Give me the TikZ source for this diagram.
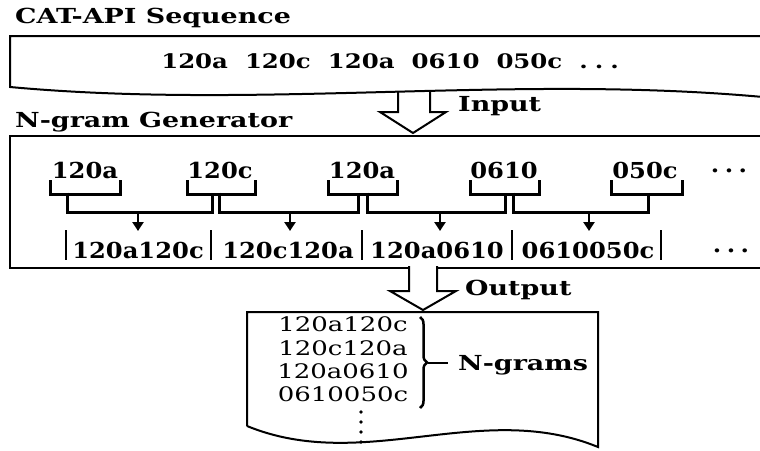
\documentclass[tikz,border=0pt]{standalone}
\usepackage{fontspec}
\setmainfont{DejaVu Serif}
\newfontfamily\fA[FakeStretch=1.3]{DejaVu Serif}
\newfontfamily\fB[FakeStretch=1.22]{DejaVu Serif}
\newfontfamily\fC[FakeStretch=1.1]{DejaVu Serif}
\usetikzlibrary{arrows.meta,decorations.pathreplacing}
\tikzset{
  boxline/.style={line width=2pt},
  brk/.style={line width=3pt, line cap=butt, line join=miter},
  downarr/.style={line width=2.4pt, -{Triangle[length=9pt,width=11pt]}},
  title/.style={anchor=base west, inner sep=0pt, font=\fontsize{20.7}{24}\fA\bfseries},
  tok/.style={anchor=base, inner sep=0pt, font=\fontsize{22}{26}\fC\bfseries},
  gram/.style={anchor=base, inner sep=0pt, font=\fontsize{22}{26}\fC\bfseries},
  lbl/.style={anchor=base west, inner sep=0pt, font=\fontsize{20.7}{24}\fA\bfseries},
  lst/.style={inner sep=0pt, font=\fontsize{20}{22}\fA},
  blockarrow/.style={line width=2pt, fill=white, line join=miter},
}
\begin{document}
\begin{tikzpicture}[x=1pt,y=-1pt]
\useasboundingbox (0,0) rectangle (760,450);

% ---- CAT-API sequence ----
\node[title] (t1) at (15,23) {CAT-API Sequence};
\draw[blockarrow] (398,86) -- (398,112) -- (380,112) -- (413,133) -- (446,112) -- (430,112) -- (430,86);
\draw[boxline, fill=white] (763,36) -- (10,36) -- (10,87) .. controls (260,110) and (510,74) .. (763,97);
\node[anchor=base, inner sep=0pt, font=\fontsize{20}{24}\fB\bfseries] (seq) at (390,68) {120a\hspace{0.85em}120c\hspace{0.85em}120a\hspace{0.85em}0610\hspace{0.85em}050c\hspace{0.85em}.\hspace{0.35em}.\hspace{0.35em}.};
\node[lbl] (in) at (458,111.5) {Input};

% ---- N-gram generator ----
\node[title] (t2) at (15,127) {N-gram Generator};
\draw[boxline] (763,136) -- (10,136) -- (10,268) -- (763,268);

\node[tok] (a1) at (85,178) {120a};
\node[tok] (a2) at (220,178) {120c};
\node[tok] (a3) at (362,178) {120a};
\node[tok] (a4) at (504,178) {0610};
\node[tok] (a5) at (645,178) {050c};
\node[tok] (d1) at (729,178) {·\hspace{0.25em}·\hspace{0.25em}·};

\foreach \l/\r in {50/120,187/255,328/397,470/539,611/682}
  \draw[brk] (\l,180) -- (\l,194) -- (\r,194) -- (\r,180);

\foreach \l/\r in {67/212,219/358,367/505,513/648}
  \draw[brk] (\l,192.5) -- (\l,212) -- (\r,212) -- (\r,192.5);

\node[gram] (g1) at (138,258) {120a120c};
\node[gram] (g2) at (288,258) {120c120a};
\node[gram] (g3) at (437,258) {120a0610};
\node[gram] (g4) at (588,258) {0610050c};
\node[gram] (d2) at (731,258) {·\hspace{0.25em}·\hspace{0.25em}·};

\foreach \x/\i in {138/1,290/2,440/3,589/4}{
  \coordinate (c\i) at (\x,212);
  \coordinate (e\i) at (\x,231);
  \draw[downarr] (c\i) -- (e\i);
}

\foreach \x in {66,211,362,512,661}
  \draw[line width=2pt] (\x,230) -- (\x,260);

% ---- output ----
\draw[blockarrow] (409,266) -- (409,291) -- (390,291) -- (423,310) -- (456,291) -- (437,291) -- (437,266);
\node[lbl] (out) at (465,295) {Output};

\draw[boxline] (247,426) -- (247,312) -- (598,312) -- (598,447) .. controls (481,399) and (364,474) .. (247,426);

\node[lst] (l1) at (343,324.5) {120a120c};
\node[lst] (l2) at (343,347.8) {120c120a};
\node[lst] (l3) at (343,371.1) {120a0610};
\node[lst] (l4) at (343,394.4) {0610050c};
\foreach \yy in {412,422,432,442}
  \fill (361,\yy) circle (1.8);

\draw[line width=2.5pt, decorate, decoration={brace, amplitude=7pt}] (420,317) -- (420,408);
\coordinate (bt) at (428,362.5);
\coordinate (be) at (448,362.5);
\node[lbl] (ng) at (458,370) {N-grams};
\draw[line width=2pt] (bt) -- (be);
\end{tikzpicture}
\end{document}
